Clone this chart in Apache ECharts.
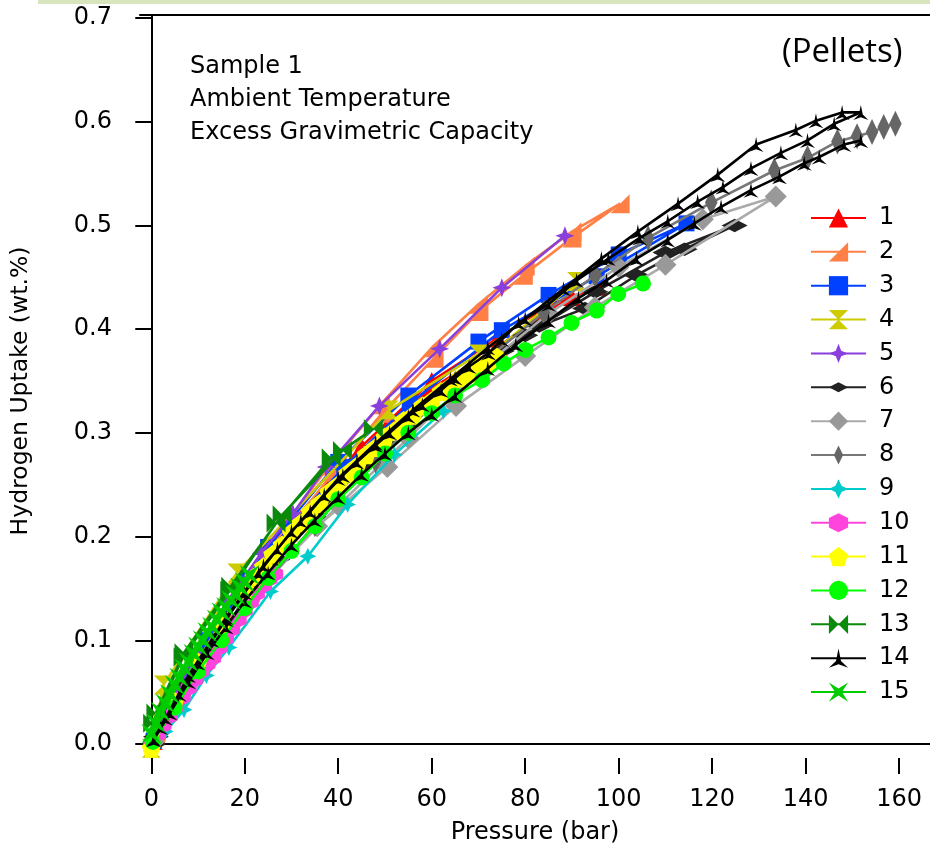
<!DOCTYPE html>
<html><head><meta charset="utf-8">
<script src="https://cdn.jsdelivr.net/npm/echarts@6/dist/echarts.min.js"></script>
<style>html,body{margin:0;padding:0;background:#fff}#c{width:930px;height:850px}</style>
</head><body><div id="c"></div>
<script>
// ---- data (Pressure bar, Uptake wt.%) ----
var xTicks = [0,20,40,60,80,100,120,140,160];
var yTicks = [0,0.1,0.2,0.3,0.4,0.5,0.6,0.7];
var seriesNames = ['1','2','3','4','5','6','7','8','9','10','11','12','13','14','15'];
var s1 = [[0.5,0.003],[5,0.04],[10,0.079],[15,0.114],[20,0.148],[25,0.178],[30,0.207],[40,0.258],[50,0.303],[60,0.343],[74.3,0.383],[84,0.415],[90,0.431],[95.6,0.441],[85,0.423],[74,0.391],[60,0.35],[45,0.287],[30,0.214],[15,0.12],[5,0.045],[1,0.01]];
var s2 = [[0.3,0.004],[3,0.03],[6,0.056],[10,0.086],[15,0.122],[20,0.155],[25,0.184],[30,0.211],[39,0.262],[49.4,0.319],[60.5,0.372],[70.1,0.417],[79.6,0.452],[90,0.488],[100.3,0.521],[90,0.494],[80,0.461],[70,0.424],[60,0.382],[49,0.327],[38,0.268],[27,0.202],[15,0.127],[5,0.047],[1,0.011]];
var s3 = [[0.5,0.003],[4,0.035],[9,0.074],[15,0.118],[21,0.158],[30,0.212],[41.3,0.267],[55.3,0.328],[75,0.399],[95.3,0.451],[114.5,0.502],[100,0.472],[85,0.433],[70,0.388],[55,0.336],[40,0.272],[25,0.19],[12,0.1],[3,0.03]];
var s4 = [[0,-0.004],[2.6,0.057],[18.3,0.165],[50.9,0.322],[70,0.376],[91,0.446],[47.3,0.278],[15,0.118],[2,0.02]];
var s5 = [[0.5,0.005],[3,0.03],[6,0.056],[10,0.09],[16,0.136],[23.5,0.184],[30.3,0.222],[37.4,0.267],[48.8,0.326],[61.7,0.381],[75,0.44],[88.5,0.49]];
var s6 = [[0.5,0.0],[5,0.036],[10,0.07],[15,0.104],[20,0.138],[27,0.178],[35,0.219],[45,0.268],[55,0.309],[65,0.346],[75,0.379],[83,0.403],[92.8,0.42],[103.8,0.452],[114.1,0.477],[124.8,0.5],[110,0.474],[95,0.436],[80,0.394],[65,0.347],[50,0.29],[35,0.222],[20,0.14],[8,0.058],[1,0.007]];
var s7 = [[0.5,0.002],[6,0.04],[21,0.138],[35.5,0.21],[50.5,0.267],[65.2,0.326],[80,0.374],[94.9,0.421],[110,0.462],[133.6,0.528],[118,0.506],[100,0.46],[85,0.415],[70,0.36],[55,0.295],[40,0.23],[25,0.16],[10,0.07],[2,0.012]];
var s8 = [[0,0.0],[8,0.055],[16,0.105],[25,0.158],[35,0.212],[48,0.273],[60,0.326],[72,0.372],[84,0.416],[95,0.452],[106.3,0.488],[119.8,0.522],[133.3,0.553],[140.4,0.565],[146.8,0.581],[151,0.586],[154.2,0.59],[156.7,0.595],[159.2,0.598]];
var s9 = [[0.3,0.0],[3,0.012],[7,0.033],[11.8,0.066],[16.6,0.093],[25.5,0.147],[33.5,0.181],[42,0.231],[52,0.279],[62.5,0.321]];
var s10 = [[0,0.0],[1.3,0.009],[2.6,0.018],[4,0.027],[5.3,0.036],[6.7,0.045],[8,0.054],[9.3,0.062],[10.6,0.07],[12,0.077],[13.2,0.083],[14.6,0.093],[16,0.102],[17.3,0.111],[18.7,0.12],[20,0.129],[21.3,0.137],[22.6,0.145],[24,0.153],[25.3,0.159],[26.5,0.164]];
var s11 = [[0,-0.004],[5,0.041],[10,0.079],[15,0.114],[20,0.149],[22,0.161],[24,0.171],[26,0.183],[28,0.192],[30,0.204],[32,0.213],[34,0.224],[36,0.232],[38,0.243],[40,0.25],[42,0.261],[44,0.268],[46,0.279],[48,0.286],[50,0.296],[52,0.302],[54,0.312],[56,0.317],[58,0.326],[60,0.331],[62,0.34],[64,0.345],[66,0.353],[68,0.357],[70,0.364],[72,0.367],[74,0.373]];
var s12 = [[0.3,0.002],[5,0.035],[10,0.07],[15,0.1],[20,0.131],[25,0.16],[30,0.186],[35,0.21],[40,0.236],[45,0.257],[50,0.28],[55,0.3],[60,0.319],[65,0.336],[70.8,0.351],[75.4,0.367],[80,0.38],[85,0.392],[89.9,0.406],[95.3,0.418],[99.9,0.434],[105.2,0.444]];
var s13 = [[0.3,0.02],[6.8,0.084],[16.8,0.148],[26.7,0.213],[38.5,0.276],[47.5,0.304],[40.9,0.283],[28,0.221],[17,0.152],[7,0.088],[1,0.03]];
var s14 = [[0.5,0.005],[3,0.025],[6,0.048],[10,0.078],[13,0.1],[16,0.12],[20,0.146],[23,0.165],[27,0.188],[30,0.205],[34,0.224],[37,0.24],[41,0.259],[44,0.272],[48,0.288],[51,0.3],[55,0.316],[58,0.327],[62,0.341],[65,0.353],[68,0.364],[72.2,0.377],[75,0.39],[78.6,0.406],[85,0.424],[91,0.447],[97.8,0.468],[104.5,0.488],[110.5,0.504],[116.9,0.523],[122.3,0.537],[128.3,0.555],[134.7,0.57],[140.4,0.582],[146.1,0.598],[151.8,0.609],
  [147.8,0.609],[142.2,0.601],[137.9,0.592],[129.4,0.578],[121.2,0.549],[112.7,0.521],[104.1,0.494],[96.3,0.468],[88.2,0.439],[80,0.41],[72,0.382],[64,0.352],[56,0.322],[48,0.29],[40,0.256],[32,0.215],[24,0.172],[16,0.122],[8,0.066],[2,0.016],
  [0.5,0.004],[4,0.03],[8,0.06],[12,0.088],[16,0.113],[20,0.138],[25,0.165],[30,0.192],[35,0.216],[40,0.238],[45,0.26],[50,0.28],[55,0.3],[60,0.318],[65,0.336],[72,0.362],[78,0.385],[85,0.408],[91.4,0.43],[97.4,0.447],[103.8,0.468],[110.5,0.486],[116.2,0.502],[121.9,0.518],[128.3,0.534],[134.4,0.547],[139.7,0.56],[142.9,0.566],[148.2,0.578],[151.8,0.582]];
var s15 = [[0,0.01],[1,0.02],[2,0.031],[3,0.039],[4,0.048],[5,0.057],[6,0.064],[7,0.073],[8,0.079],[9,0.087],[10,0.094],[11,0.1],[12,0.108],[13,0.113],[14,0.12],[15,0.127],[16,0.132],[17,0.139],[18,0.144],[19,0.151],[20,0.156],[21,0.163]];

// ---- styles ----
var allData = [s1,s2,s3,s4,s5,s6,s7,s8,s9,s10,s11,s12,s13,s14,s15];
var colors = ['#ff0000','#ff7f45','#0040ff','#cccc00','#8a3fdc','#222222','#999999','#666666','#00cccc','#ff44dd','#ffff00','#00ff00','#0a8a0a','#000000','#00cc00'];
var lineColors = ['#ff0000','#ff7f45','#0040ff','#cccc00','#8a3fdc','#222222','#aaaaaa','#777777','#00cccc','#ff44dd','#ffff00','#00ff00','#0a8a0a','#000000','#00cc00'];
var symbols = [
  'triangle',
  'path://M0,10 L10,0 L10,10 Z',
  'rect',
  'path://M0,0 L10,0 L0,10 L10,10 Z',
  'path://M5,0 L6.4,3.6 L10,5 L6.4,6.4 L5,10 L3.6,6.4 L0,5 L3.6,3.6 Z',
  'path://M0,0 M10,10 M0,5 L5,2.4 L10,5 L5,7.6 Z',
  'diamond',
  'path://M0,0 M10,10 M5,0 L7.4,5 L5,10 L2.6,5 Z',
  'path://M5,0 L6.6,3.4 L10,5 L6.6,6.6 L5,10 L3.4,6.6 L0,5 L3.4,3.4 Z',
  'path://M5,0 L9.33,2.5 L9.33,7.5 L5,10 L0.67,7.5 L0.67,2.5 Z',
  'path://M5,0 L10,3.8 L8.1,10 L1.9,10 L0,3.8 Z',
  'circle',
  'path://M0,0 L10,10 L10,0 L0,10 Z',
  'path://M5,0 L6.3,5.8 L10,9 L5,7.4 L0,9 L3.7,5.8 Z',
  'path://M0,0 L5,3.2 L10,0 L6.8,5 L10,10 L5,6.8 L0,10 L3.2,5 Z'
];
var sizes = [18,19,16,19,19,26,22,26,17,16,19,16,19,15,20];

var xMin = -2.41, xMax = 166.6, yMin = -0.0106, yMax = 0.7029;
var FONT = "'DejaVu Sans', sans-serif";

var series = allData.map(function(d,i){
  return {
    name: seriesNames[i], type:'line', data:d, symbol:symbols[i], symbolSize:sizes[i],
    lineStyle:{color:lineColors[i], width:2.6}, itemStyle:{color:colors[i]},
    xAxisIndex:0, yAxisIndex:0, animation:false, z: 2+i
  };
});

var chart = echarts.init(document.getElementById('c'), null, {renderer:'canvas'});
chart.setOption({
  backgroundColor:'#ffffff',
  animation:false,
  grid:{left:140, top:15, right:-3, bottom:95, show:false},
  xAxis:[
    {type:'value', min:xMin, max:xMax, position:'bottom',
     axisLine:{show:true, lineStyle:{color:'#000', width:2}}, axisTick:{show:false}, axisLabel:{show:false}, splitLine:{show:false}},
    {type:'value', min:xMin, max:xMax, position:'bottom', offset:3,
     axisLine:{show:false}, axisTick:{show:true, length:16, customValues:xTicks, lineStyle:{color:'#000', width:2}},
     axisLabel:{show:true, customValues:xTicks, margin:30, fontSize:24, color:'#000', fontFamily:FONT},
     splitLine:{show:false},
     name:'Pressure (bar)', nameLocation:'middle', nameGap:63, nameTextStyle:{fontSize:24, color:'#000', fontFamily:FONT}},
    {type:'value', min:xMin, max:xMax, position:'top',
     axisLine:{show:true, lineStyle:{color:'#000', width:2}}, axisTick:{show:false}, axisLabel:{show:false}, splitLine:{show:false}}
  ],
  yAxis:[{type:'value', min:yMin, max:yMax, position:'left',
    axisLine:{show:true, lineStyle:{color:'#000', width:2}},
    axisTick:{show:true, length:16, customValues:yTicks, lineStyle:{color:'#000', width:2}},
    axisLabel:{show:true, customValues:yTicks, margin:28, fontSize:24, color:'#000', fontFamily:FONT,
      formatter:function(v){return v.toFixed(1);}},
    splitLine:{show:false},
    name:'Hydrogen Uptake (wt.%)', nameLocation:'middle', nameGap:107, nameRotate:90,
    nameTextStyle:{fontSize:23.5, color:'#000', fontFamily:FONT, padding:[0,12,0,0]}}],
  legend:{
    orient:'vertical', left:810, top:206, padding:0, itemWidth:55, itemHeight:24, itemGap:9.86,
    data:seriesNames, selectedMode:false,
    textStyle:{fontSize:24, color:'#000', fontFamily:FONT, padding:[0,0,0,8]}
  },
  graphic:[
    {type:'rect', left:38, top:0, shape:{width:892, height:4}, style:{fill:'#d7e4bd'}, silent:true},
    {type:'text', left:190, top:50, style:{text:'Sample 1\nAmbient Temperature\nExcess Gravimetric Capacity', font:"24px 'DejaVu Sans', sans-serif", lineHeight:33, fill:'#000'}},
    {type:'text', left:782, top:36, style:{text:'(Pellets)', font:"33px 'Open Sans', sans-serif", fill:'#000'}}
  ],
  series:series
});
</script></body></html>
